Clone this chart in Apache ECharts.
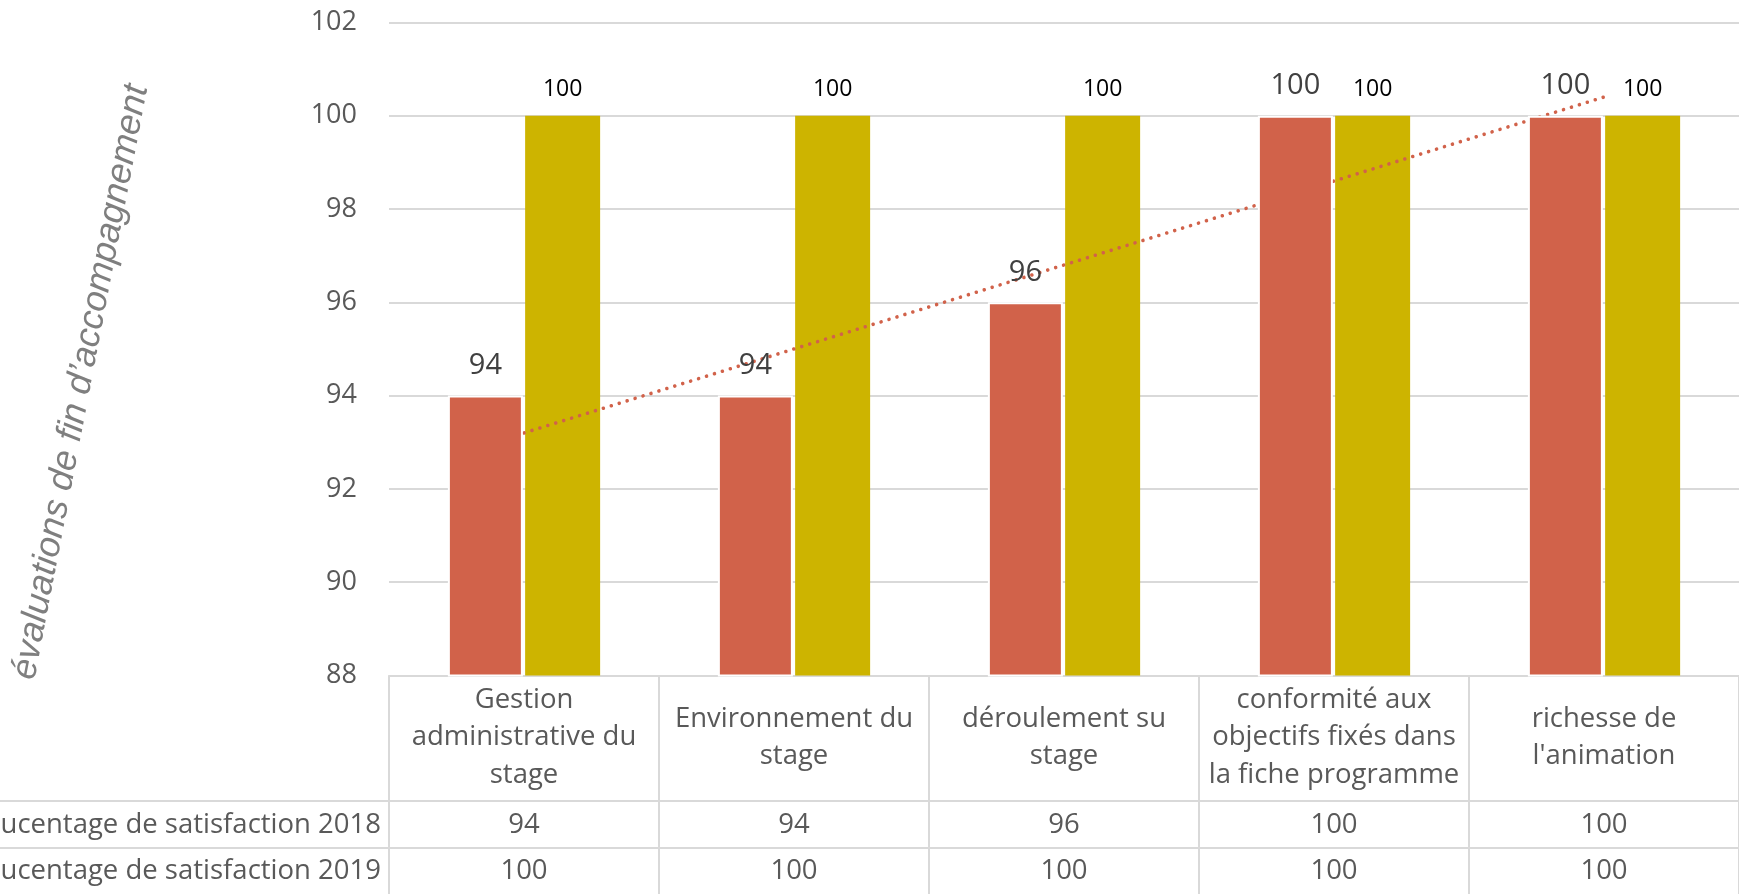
<!DOCTYPE html>
<html>
<head>
<meta charset="utf-8">
<script src="https://cdn.jsdelivr.net/npm/echarts@6/dist/echarts.min.js"></script>
<style>
    html, body {margin: 0; padding: 0; background: #fff;}
    #chart {width: 1739px; height: 894px;}
</style>
</head>
<body>
<div id="chart"></div>
<script>
// données
const categories = [
    'Gestion\nadministrative du\nstage',
    'Environnement du\nstage',
    'déroulement su\nstage',
    'conformité aux\nobjectifs fixés dans\nla fiche programme',
    'richesse de\nl\'animation'
];
const rowNames = ['Poucentage de satisfaction 2018', 'Poucentage de satisfaction 2019'];
const values2018 = [94, 94, 96, 100, 100];
const values2019 = [100, 100, 100, 100, 100];
// courbe de tendance linéaire 2018 (début / fin)
const trend2018 = [93.2, 100.4];
const yMin = 88, yMax = 102, yStep = 2;
const yTitle = 'évaluations de fin d’accompagnement';

const RED = '#D1624A';
const YELLOW = '#CDB400';
const GRID_COLOR = '#d9d9d9';
const TEXT = '#595959';
const FONT = '"Open Sans", sans-serif';
const TABLE_FONT_SIZE = 27.5;

var chart = echarts.init(document.getElementById('chart'), null, {renderer: 'canvas'});

// axe supplémentaire pour une ligne du tableau de données
function tableRow(values, margin) {
    return {
        type: 'category',
        gridIndex: 0,
        position: 'bottom',
        data: categories,
        axisLine: {show: false},
        axisTick: {show: false},
        splitLine: {show: false},
        axisLabel: {
            interval: 0,
            margin: margin,
            verticalAlign: 'middle',
            fontSize: TABLE_FONT_SIZE,
            fontFamily: FONT,
            color: TEXT,
            formatter: (v, i) => String(values[i])
        }
    };
}

var option = {
    animation: false,
    backgroundColor: '#fff',
    grid: {left: 389, right: -2, top: 22.4, bottom: 218.5, containLabel: false},
    xAxis: [
        {
            type: 'category',
            data: categories,
            axisLine: {show: true, lineStyle: {color: GRID_COLOR, width: 2}},
            axisTick: {
                show: true,
                interval: 0,
                alignWithLabel: false,
                length: 230,
                lineStyle: {color: GRID_COLOR, width: 2}
            },
            axisLabel: {
                interval: 0,
                margin: 62,
                verticalAlign: 'middle',
                fontSize: TABLE_FONT_SIZE,
                lineHeight: 37.5,
                fontFamily: FONT,
                color: TEXT
            }
        },
        tableRow(values2018, 150),
        tableRow(values2019, 196)
    ],
    yAxis: {
        type: 'value',
        min: yMin,
        max: yMax,
        interval: yStep,
        axisLine: {show: false},
        axisTick: {show: false},
        axisLabel: {margin: 32, fontSize: 27, fontFamily: FONT, color: TEXT},
        splitLine: {lineStyle: {color: GRID_COLOR, width: 2}}
    },
    series: [
        {
            name: rowNames[0],
            type: 'bar',
            data: values2018,
            barWidth: 75,
            barGap: '3%',
            z: 3,
            itemStyle: {color: RED, borderColor: '#fff', borderWidth: 2},
            label: {
                show: true,
                position: 'top',
                distance: 15,
                fontSize: 29,
                fontFamily: FONT,
                color: '#404040'
            }
        },
        {
            name: rowNames[1],
            type: 'bar',
            data: values2019,
            barWidth: 75,
            z: 2,
            itemStyle: {color: YELLOW},
            label: {
                show: true,
                position: 'top',
                distance: 15,
                fontSize: 23,
                fontFamily: FONT,
                color: '#000'
            }
        },
        {
            name: 'Linéaire (' + rowNames[0] + ')',
            type: 'line',
            data: [[categories[0], trend2018[0]], [categories[categories.length - 1], trend2018[1]]],
            symbol: 'none',
            silent: true,
            z: 2.5,
            lineStyle: {color: RED, width: 3.6, type: [0.01, 8.3], cap: 'round'}
        }
    ],
    graphic: [
        {type: 'line', shape: {x1: 0, y1: 801, x2: 1739, y2: 801}, style: {stroke: GRID_COLOR, lineWidth: 2}},
        {type: 'line', shape: {x1: 0, y1: 848, x2: 1739, y2: 848}, style: {stroke: GRID_COLOR, lineWidth: 2}},
        {
            type: 'text', x: 381, y: 825,
            style: {text: rowNames[0], align: 'right', verticalAlign: 'middle', fontSize: TABLE_FONT_SIZE, fontFamily: FONT, fill: TEXT}
        },
        {
            type: 'text', x: 381, y: 871,
            style: {text: rowNames[1], align: 'right', verticalAlign: 'middle', fontSize: TABLE_FONT_SIZE, fontFamily: FONT, fill: TEXT}
        },
        {
            type: 'text', x: 81, y: 382,
            rotation: 79.2 * Math.PI / 180,
            style: {
                text: yTitle,
                align: 'center',
                verticalAlign: 'middle',
                fontSize: 36,
                fontStyle: 'italic',
                fontFamily: '"Liberation Sans", Arial, sans-serif',
                fill: '#7f7f7f'
            }
        }
    ]
};

option && chart.setOption(option);
</script>
</body>
</html>
